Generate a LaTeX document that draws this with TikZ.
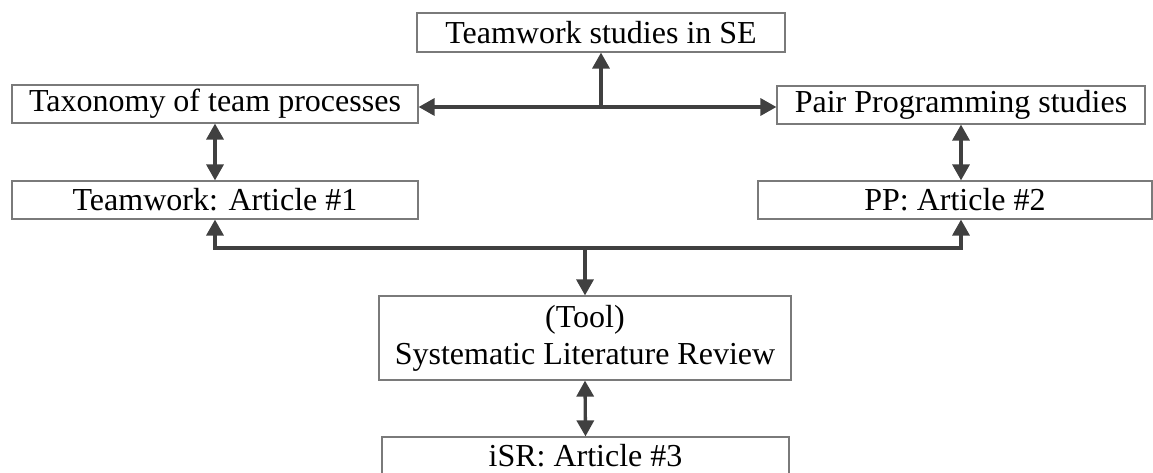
\documentclass[tikz,border=0pt]{standalone}
\usepackage{fontspec}
\setmainfont{Liberation Serif}
\usepackage{xcolor}
\usetikzlibrary{positioning, arrows.meta}
\definecolor{linegray}{HTML}{404040}
\definecolor{boxgray}{HTML}{7A7A7A}

\begin{document}
\begin{tikzpicture}[x=0.75pt, y=-0.75pt,
    box/.style={rectangle, draw=boxgray, line width=0.9pt, inner sep=0pt, minimum height=28.5pt, align=center, font=\fontsize{24}{27.6}\selectfont},
    link/.style={draw=linegray, line width=2.5pt, -{Triangle[length=12pt, width=12.75pt]}},
    both/.style={link, {Triangle[length=12pt, width=12.75pt]}-{Triangle[length=12pt, width=12.75pt]}}]
    \useasboundingbox (0,0) rectangle (1153,473);

    \node (se) [box, minimum width=276pt, minimum height=29.25pt] at (601,32.5) {Teamwork studies in SE};
    \node (tax) [box, minimum width=304.5pt] at (215,104) {Taxonomy of team processes};
    \node (pps) [box, minimum width=276pt] at (961,105) {Pair Programming studies};
    \node (art1) [box, minimum width=304.5pt] at (215,200) {Teamwork: Article \#1};
    \node (art2) [box, minimum width=295.5pt] at (955,200) {PP: Article \#2};
    \node (slr) [box, minimum width=309pt, minimum height=63pt] at (585,338) {(Tool)\\Systematic Literature Review};
    \node (isr) [box, minimum width=305.25pt] at (585.5,456) {iSR: Article \#3};

    \coordinate (top) at (601,107);
    \coordinate (bus) at (585,248);

    \draw[both] (top -| tax.east) -- (top -| pps.west);
    \draw[link] (top) -- (se.south);
    \draw[both] (tax.south) -- (art1.north);
    \draw[both] (pps.south) -- (pps.south |- art2.north);
    \draw[link] (bus) -| (art1.south);
    \draw[link] (bus) -| (art2.south -| pps.south);
    \draw[link] (bus) -- (slr.north);
    \draw[both] (slr.south) -- (isr.north);
\end{tikzpicture}
\end{document}
